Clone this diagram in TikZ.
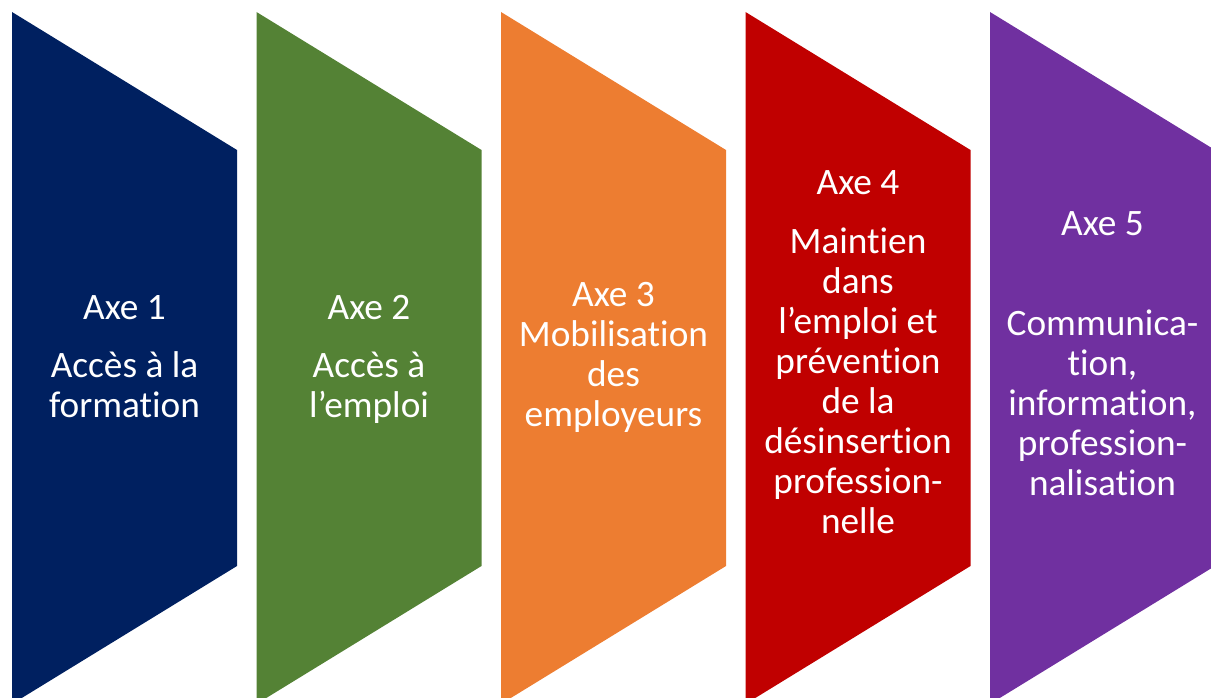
\documentclass[tikz,border=0pt]{standalone}
\usepackage{fontspec}
\setmainfont[Ligatures=NoCommon]{Carlito}
\newcommand\tiX{t\kern0pt i}
\definecolor{c1}{HTML}{002060}
\definecolor{c2}{HTML}{548235}
\definecolor{c3}{HTML}{ED7D31}
\definecolor{c4}{HTML}{C00000}
\definecolor{c5}{HTML}{7030A0}
\begin{document}
\begin{tikzpicture}[x=1pt,y=-1pt,
  lbl/.style={text=white, font=\fontsize{37.3}{40}\selectfont, inner sep=0pt, anchor=base},
  chev/.style={draw=none}]
\useasboundingbox (0,0) rectangle (1211,698);
\clip (0,0) rectangle (1211,698);
% chevrons
\foreach \L/\c in {12/c1, 256.5/c2, 501/c3, 745.5/c4, 990/c5}{
  \fill[chev, fill=\c] (\L,12) -- (\L+225,150) -- (\L+225,566) -- (\L,704) -- cycle;
}
% column 1
\node[lbl] (a1t) at (124.5,319) {Axe 1};
\node[lbl] (a1a) at (124.5,377) {Accès à la};
\node[lbl] (a1b) at (124.5,417) {forma\tiX on};
% column 2
\node[lbl] (a2t) at (369,319) {Axe 2};
\node[lbl] (a2a) at (369,377) {Accès à};
\node[lbl] (a2b) at (369,417) {l’emploi};
% column 3
\node[lbl] (a3t) at (613.5,306) {Axe 3};
\node[lbl] (a3a) at (613.5,346) {Mobilisa\tiX on};
\node[lbl] (a3b) at (613.5,386) {des};
\node[lbl] (a3c) at (613.5,426) {employeurs};
% column 4
\node[lbl] (a4t) at (858,195) {Axe 4};
\node[lbl] (a4a) at (858,253) {Main\tiX en};
\node[lbl] (a4b) at (858,293) {dans};
\node[lbl] (a4c) at (858,333) {l’emploi et};
\node[lbl] (a4d) at (858,373) {préven\tiX on};
\node[lbl] (a4e) at (858,413) {de la};
\node[lbl] (a4f) at (858,453) {désinser\tiX on};
\node[lbl] (a4g) at (858,493) {profession-};
\node[lbl] (a4h) at (858,533) {nelle};
% column 5
\node[lbl] (a5t) at (1102.5,235) {Axe 5};
\node[lbl] (a5a) at (1102.5,335) {Communica-};
\node[lbl] (a5b) at (1102.5,375) {\tiX on,};
\node[lbl] (a5c) at (1102.5,415) {informa\tiX on,};
\node[lbl] (a5d) at (1102.5,455) {profession-};
\node[lbl] (a5e) at (1102.5,495) {nalisa\tiX on};
\end{tikzpicture}
\end{document}
